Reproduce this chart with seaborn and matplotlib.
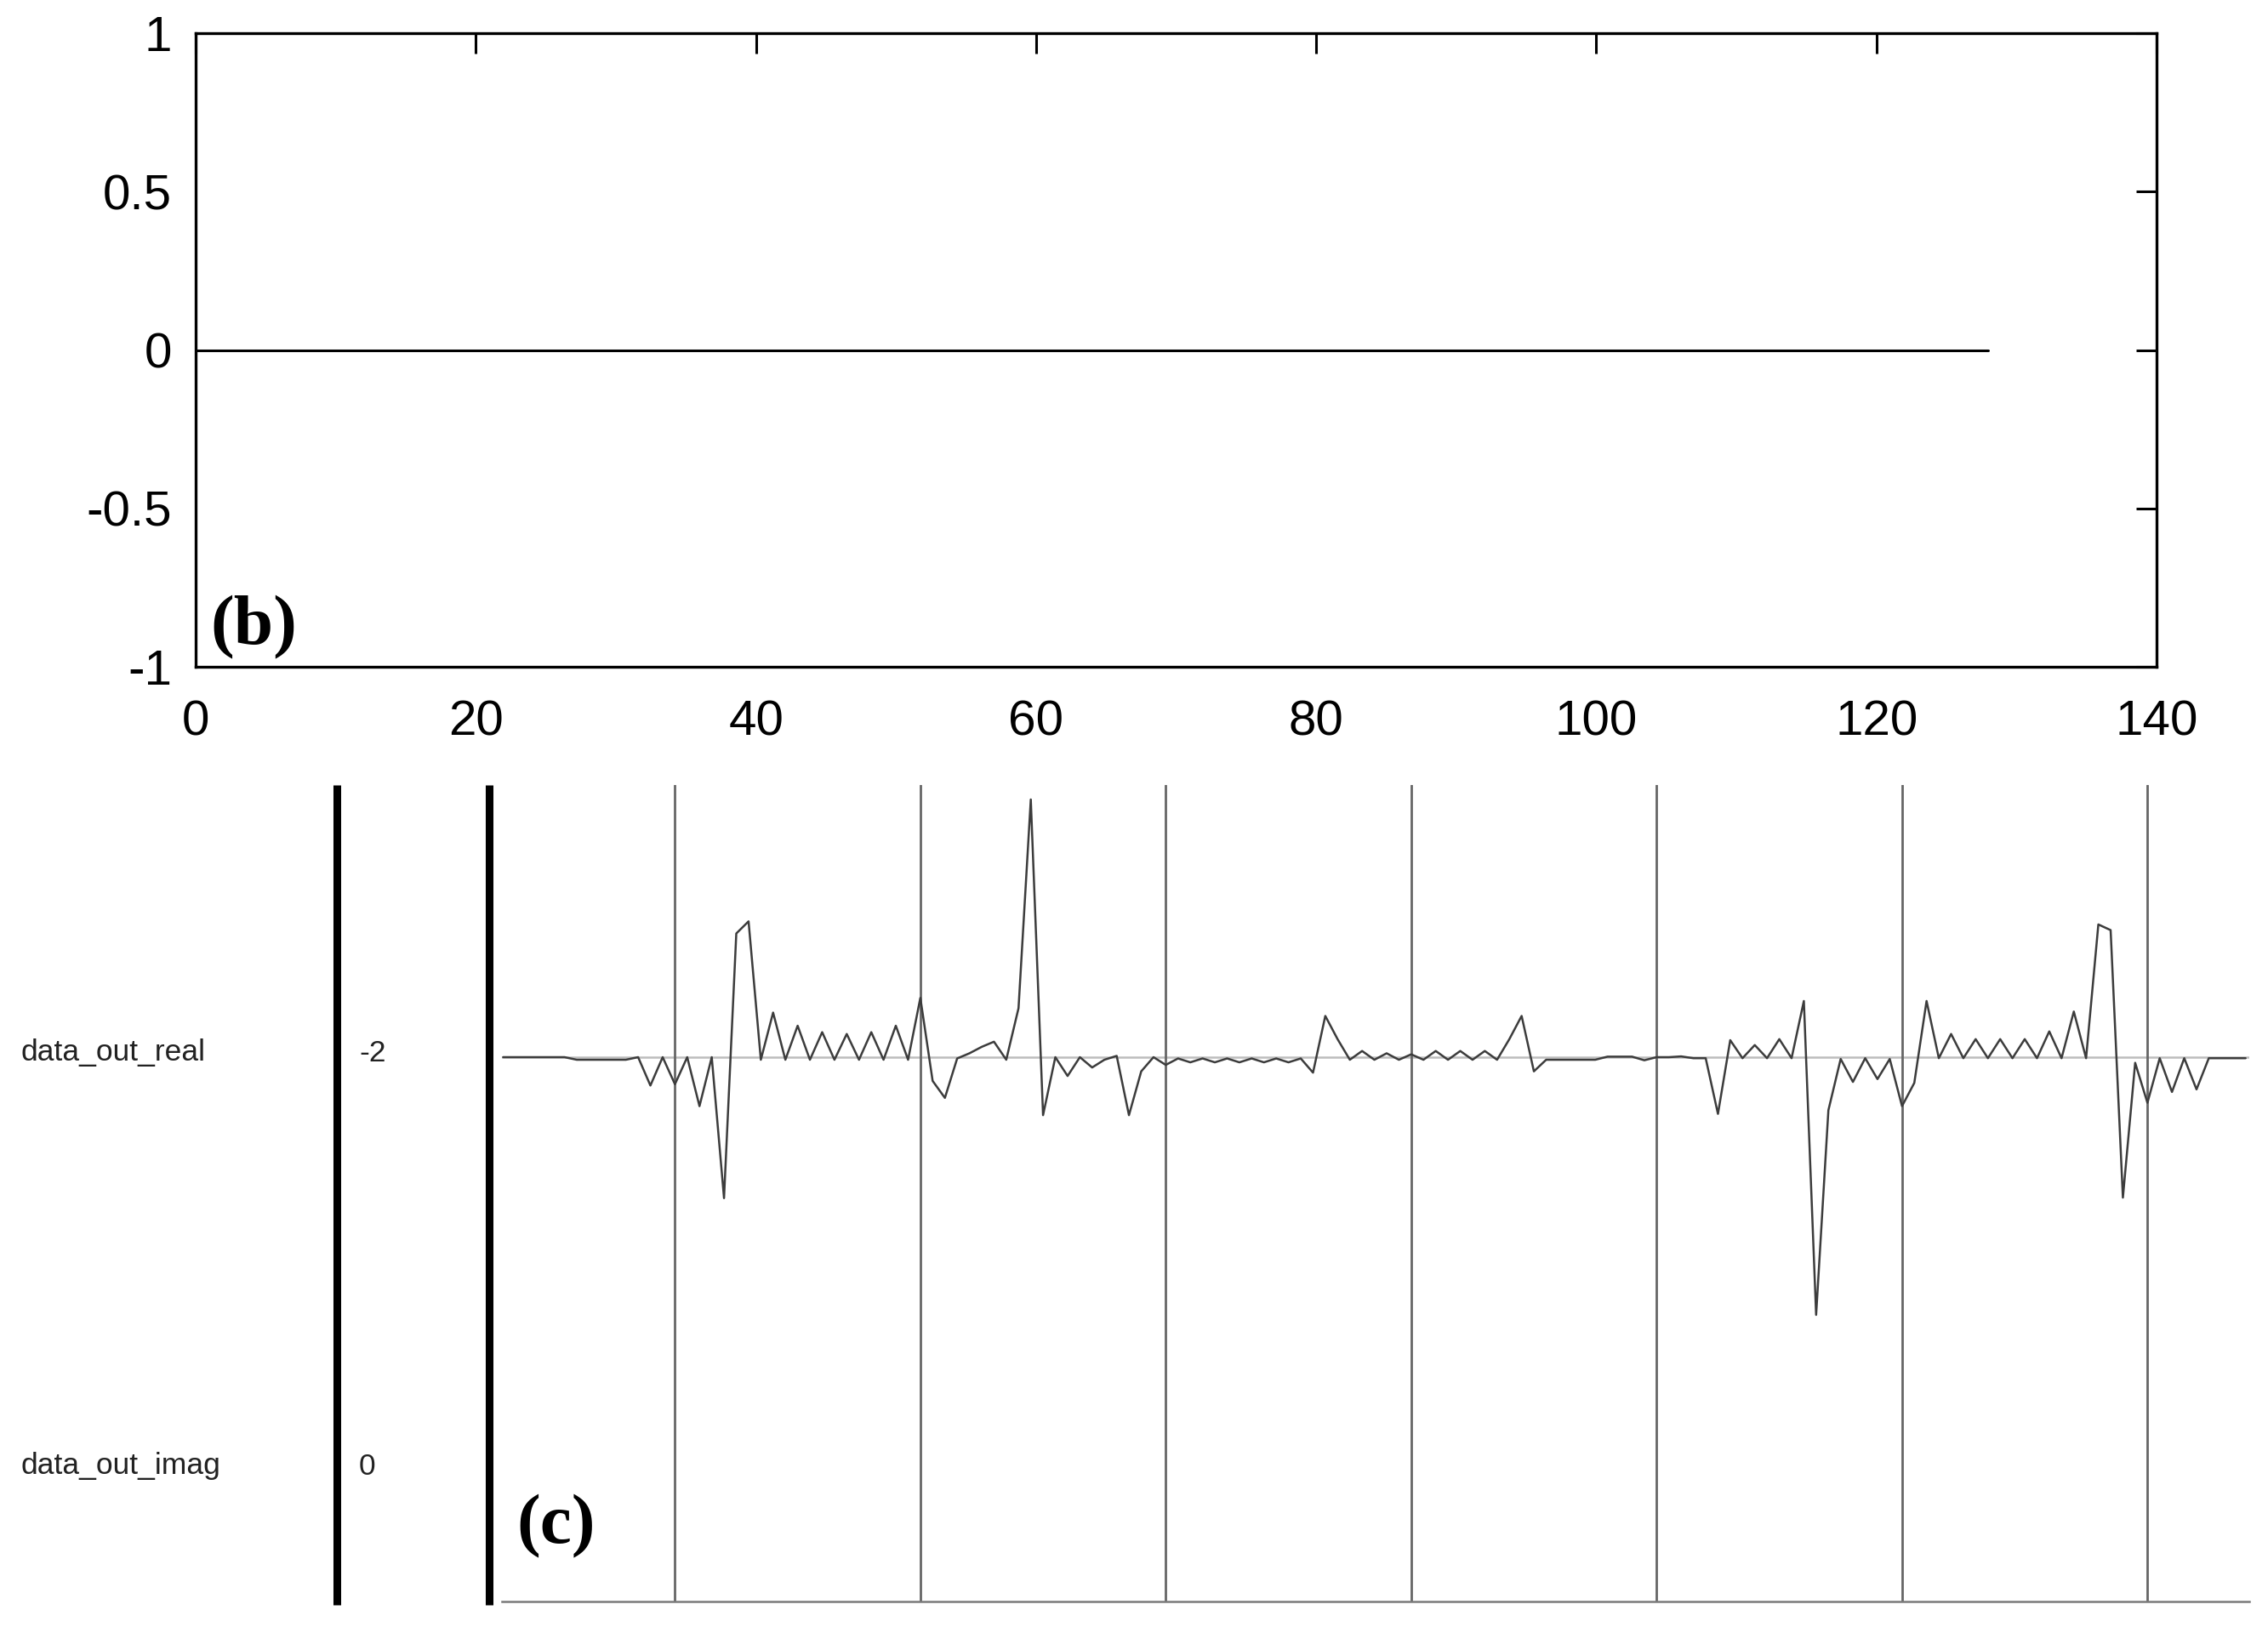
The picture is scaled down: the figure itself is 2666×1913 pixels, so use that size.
import numpy as np
import pandas as pd
import matplotlib
matplotlib.use("Agg")
import matplotlib.pyplot as plt
from matplotlib.lines import Line2D
import seaborn as sns

''' DATA '''
# (b) imaginary output, 129 samples, all zero
imag_out = [0.0] * 129
b_xticks = [0, 20, 40, 60, 80, 100, 120, 140]
b_yticks = [-1, -0.5, 0, 0.5, 1]
b_yticklabels = ["-1", "-0.5", "0", "0.5", "1"]

# (c) simulator wave of data_out_real (relative amplitude, biggest spike = 1)
real_start = -14
real_lead = [0.0, 0.0, 0.0, 0.0, 0.0, 0.0, -0.01, -0.01, -0.01, -0.01, -0.01]
real_frame_a = [0.0, -0.11, 0.0, -0.105, 0.0, -0.19, 0.0, -0.547, 0.48, 0.527,
                -0.01, 0.173, -0.01, 0.122, -0.01, 0.097, -0.01, 0.09, -0.01, 0.097,
                -0.01, 0.122, -0.01, 0.23, -0.092, -0.158, -0.005, 0.015, 0.04, 0.06,
                -0.01, 0.19, 1.0, -0.225, 0.0, -0.073, 0.0, -0.04, -0.01, 0.005,
                -0.225, -0.055, 0.0]
real_frame_b = [-0.03, -0.005, -0.02, -0.005, -0.02, -0.005, -0.02, -0.005, -0.02, -0.005,
                -0.02, -0.005, -0.06, 0.16, 0.07, -0.01, 0.024, -0.01, 0.015, -0.01,
                0.011, -0.01, 0.024, -0.01, 0.024, -0.01, 0.024, -0.01, 0.07, 0.16,
                -0.055, -0.01, -0.01, -0.01, -0.01, -0.01, 0.002, 0.002, 0.002, -0.012]
real_frame_c = [0.0, 0.0, 0.003, -0.004, -0.004, -0.22, 0.066, -0.004, 0.047, -0.004,
                0.07, -0.004, 0.218, -1.0, -0.206, -0.007, -0.096, -0.004, -0.085, -0.007,
                -0.19, -0.1, 0.218, -0.004, 0.09, -0.004, 0.07, -0.004, 0.07, -0.004,
                0.07, -0.004, 0.10, -0.004, 0.177, -0.004, 0.515, 0.493, -0.545, -0.022,
                -0.177, -0.004, -0.135, -0.004, -0.125, -0.004, -0.004, -0.004, -0.004]
c_grid = [0, 20, 40, 60, 80, 100, 120]
signal_names = ["data_out_real", "data_out_imag"]
signal_values = ["-2", "0"]

real_out = real_lead + real_frame_a + real_frame_b + real_frame_c
df_b = pd.DataFrame({"n": np.arange(len(imag_out)), "v": imag_out})
df_c = pd.DataFrame({"n": np.arange(real_start, real_start + len(real_out)), "v": real_out})

''' STYLE '''
sns.set_style("white")
plt.rcParams['font.family'] = ['Liberation Sans', 'DejaVu Sans']
plt.rcParams['axes.unicode_minus'] = False

W, H = 2666, 1913
fig = plt.figure(figsize=(W / 100, H / 100), dpi=100)

def fx(px):
    return px / W

def fy(py):
    return 1 - py / H

''' PANEL (b) '''
ax_b = fig.add_axes([fx(230), fy(784), fx(2535) - fx(230), fy(39) - fy(784)])
sns.lineplot(data=df_b, x="n", y="v", ax=ax_b, color="black", linewidth=2.2)
ax_b.set_xlim(0, 140)
ax_b.set_ylim(-1, 1)
ax_b.set_xticks(b_xticks)
ax_b.set_yticks(b_yticks)
ax_b.set_yticklabels(b_yticklabels)
ax_b.set_xlabel("")
ax_b.set_ylabel("")
for s in ax_b.spines.values():
    s.set_visible(True)
    s.set_linewidth(2.4)
    s.set_color("black")
ax_b.tick_params(direction="in", length=17, width=2.2, top=True, right=True,
                 labelsize=42, colors="black")
ax_b.tick_params(axis="x", pad=28)
ax_b.tick_params(axis="y", pad=20)
fig.text(fx(247), fy(757), "(b)", fontsize=60, fontweight="bold", color="black",
         family="Liberation Serif", va="baseline", ha="left")

''' PANEL (c) '''
amp = 303.0  # px per unit amplitude
base_y = 1243
top_y, bot_y = 923, 1883
ax_c = fig.add_axes([fx(590), fy(bot_y), fx(2644) - fx(590), fy(top_y) - fy(bot_y)])
ax_c.axhline(0, color="#bdbdbd", linewidth=1.8, zorder=1)
for g in c_grid:
    ax_c.axvline(g, color="#666666", linewidth=2.0, zorder=2)
sns.lineplot(data=df_c, x="n", y="v", ax=ax_c, color="#3c3c3c", linewidth=1.8, zorder=3)
ax_c.set_xlim(-14.1, 128.3)
ax_c.set_ylim(-(bot_y - base_y) / amp, (base_y - top_y) / amp)
ax_c.set_xticks([])
ax_c.set_yticks([])
ax_c.set_xlabel("")
ax_c.set_ylabel("")
sns.despine(ax=ax_c, left=True, top=True, right=True)
ax_c.spines["bottom"].set_color("#7a7a7a")
ax_c.spines["bottom"].set_linewidth(1.8)

# signal name / value columns and separators
for name, val, py in zip(signal_names, signal_values, [1238, 1724]):
    fig.text(fx(24), fy(py), name, fontsize=25.5, color="#222222", va="center", ha="left")
    fig.text(fx(422), fy(py), val, fontsize=25.5, color="#222222", va="center", ha="left")
for px in [396, 575]:
    fig.add_artist(Line2D([fx(px), fx(px)], [fy(923), fy(1887)], color="black",
                          linewidth=6.5, transform=fig.transFigure, solid_capstyle="butt"))
fig.text(fx(607), fy(1814), "(c)", fontsize=60, fontweight="bold", color="black",
         family="Liberation Serif", va="baseline", ha="left")

fig.savefig("out.png", dpi=100)
